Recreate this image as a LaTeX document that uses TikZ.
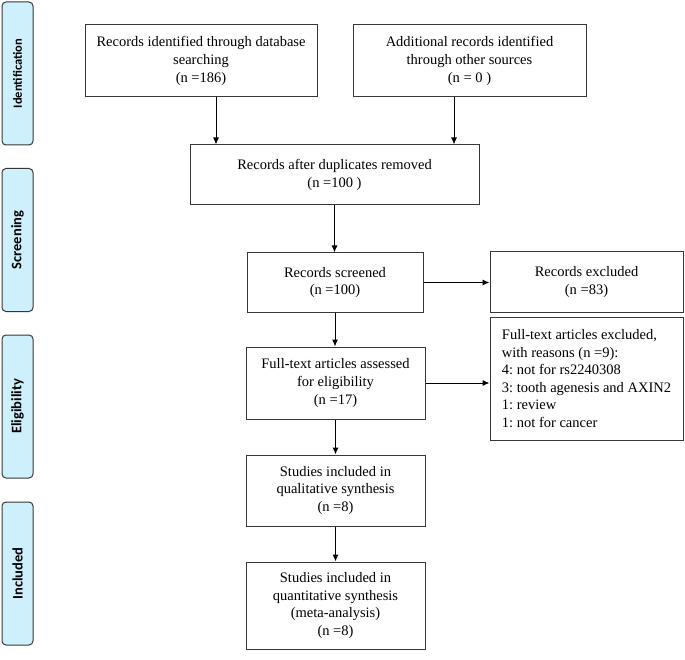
\documentclass[tikz,border=0pt]{standalone}
\usepackage{fontspec}
\setmainfont{Liberation Serif}
\newfontfamily\stagefont{Carlito}
\usetikzlibrary{positioning,arrows.meta,calc}
\definecolor{stagefill}{RGB}{206,239,252}
\definecolor{boxline}{RGB}{55,55,55}
\frenchspacing

\begin{document}
\begin{tikzpicture}[x=1pt, y=-1pt,
  every node/.style={font=\fontsize{14.5}{17.6}\selectfont},
  box/.style={draw=boxline, line width=1pt, fill=white, align=center, inner sep=0pt},
  stage/.style={draw=boxline, line width=1pt, fill=stagefill, rounded corners=4pt, rotate=90,
    minimum width=143pt, minimum height=31pt, inner sep=0pt, font=\stagefont\bfseries\fontsize{14.5}{16}\selectfont},
  flow/.style={-{Latex[length=7pt,width=6pt]}, line width=1pt}]
  \useasboundingbox (0,0) rectangle (685,660);

  % stages on the left
  \node[stage] (sid) at (17.5,73.5) {\fontsize{12.5}{14}\selectfont Identification};
  \node[stage] (sscr) at (17.5,240) {Screening};
  \node[stage] (selig) at (17.5,406.5) {Eligibility};
  \node[stage] (sincl) at (17.5,573.5) {Included};

  % flow boxes
  \node[box, minimum width=232pt, minimum height=72pt] (rec) at (201,61) {Records identified through database\\searching\\(n =186)};
  \node[box, minimum width=233pt, minimum height=72pt] (add) at (469.5,61) {Additional records identified\\through other sources\\(n = 0 )};
  \node[box, minimum width=289pt, minimum height=60pt] (dup) at (334.5,175) {Records after duplicates removed\\(n =100 )};
  \node[box, minimum width=176pt, minimum height=59pt] (scr) at (335,282.5) {Records screened\\(n =100)};
  \node[box, minimum width=193pt, minimum height=60pt] (exc) at (586.5,282) {Records excluded\\(n =83)};
  \node[box, minimum width=179pt, minimum height=72pt] (full) at (335.5,383) {Full-text articles assessed\\for eligibility\\(n =17)};
  \node[box, minimum width=193pt, minimum height=123pt, align=left] (fexc) at (586.5,378.5) {Full-text articles excluded,\\with reasons (n =9):\\4: not for rs2240308\\3: tooth agenesis and AXIN2\\1: review\\1: not for cancer};
  \node[box, minimum width=179pt, minimum height=71pt] (qual) at (335.5,490.5) {Studies included in\\qualitative synthesis\\(n =8)};
  \node[box, minimum width=179pt, minimum height=87pt] (quant) at (335.5,605.5) {Studies included in\\quantitative synthesis\\(meta-analysis)\\(n =8)};

  \coordinate (recout) at ($(rec.south)+(15,0)$);
  \coordinate (addout) at ($(add.south)+(-15.5,0)$);

  \draw[flow] (recout) -- (recout |- dup.north);
  \draw[flow] (addout) -- (addout |- dup.north);
  \draw[flow] (dup.south) -- (dup.south |- scr.north);
  \draw[flow] (scr.east) -- (scr.east -| exc.west);
  \draw[flow] (scr.south) -- (scr.south |- full.north);
  \draw[flow] (full.east) -- (full.east -| fexc.west);
  \draw[flow] (full.south) -- (full.south |- qual.north);
  \draw[flow] (qual.south) -- (qual.south |- quant.north);
\end{tikzpicture}
\end{document}
